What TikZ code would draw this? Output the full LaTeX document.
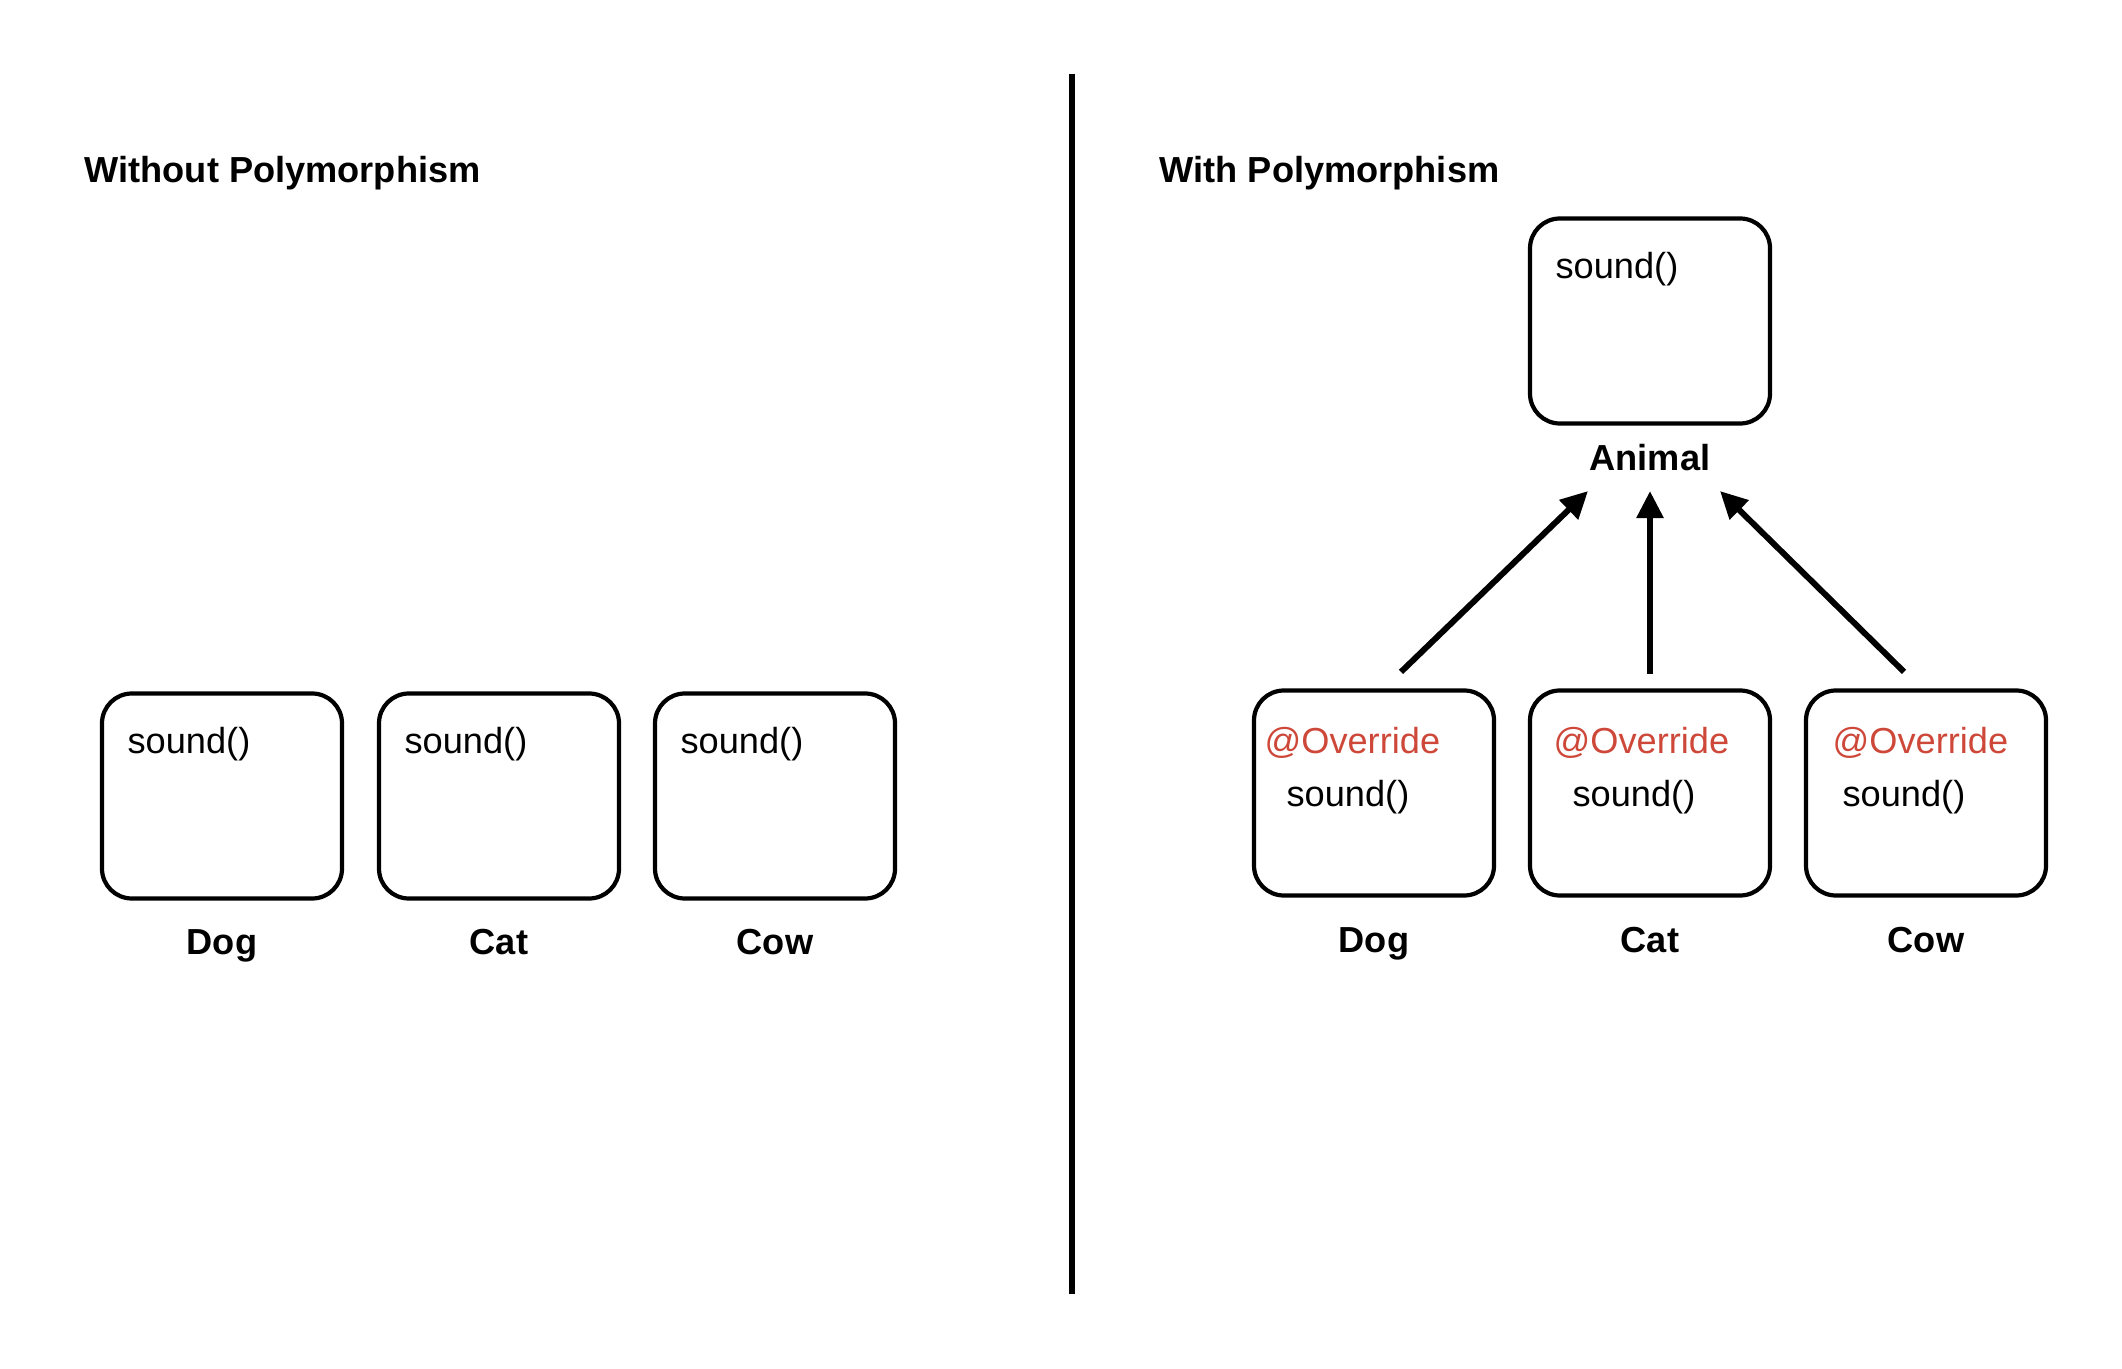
\documentclass[tikz,border=0pt]{standalone}
\usepackage{fontspec}
\setmainfont{Liberation Sans}
\usetikzlibrary{arrows.meta}
\definecolor{overred}{RGB}{206,72,58}
\tikzset{
  classbox/.style={draw, line width=1.2pt, rounded corners=8.5pt,
    minimum width=2.40cm, minimum height=2.05cm, inner sep=0pt},
  method/.style={anchor=west, inner sep=0pt, font=\fontsize{10.3}{12}\selectfont},
  override/.style={method, color=overred},
  classname/.style={anchor=base, inner sep=0pt, font=\fontsize{10.3}{12}\selectfont\bfseries},
  heading/.style={classname, anchor=base west},
  inherit/.style={-{Triangle[length=7.7pt,width=7.4pt]}, line width=1.7pt}
}
\begin{document}
\begin{tikzpicture}
  \useasboundingbox (0,0) rectangle (21.22,-13.69);
  % divider
  \draw[line width=1.7pt] (10.72,-0.74) -- (10.72,-12.94);

  % without polymorphism
  \node[heading] (plainhead) at (0.84,-1.83) {Without Polymorphism};
  \foreach \c/\x/\n in {dogplain/2.22/Dog, catplain/4.99/Cat, cowplain/7.75/Cow} {
    \node[classbox] (\c) at (\x,-7.96) {};
    \node[method] (\c-m) at ([xshift=0.27cm,yshift=-0.53cm]\c.north west) {sound()};
    \node[classname] (\c-name) at (\x,-9.54) {\n};
  }

  % with polymorphism
  \node[heading] (polyhead) at (11.59,-1.83) {With Polymorphism};
  \node[classbox] (animal) at (16.50,-3.21) {};
  \node[method] (animal-m) at ([xshift=0.27cm,yshift=-0.53cm]animal.north west) {sound()};
  \node[classname] (animal-name) at (16.50,-4.71) {Animal};

  \foreach \c/\x/\n/\a/\s in {dog/13.74/Dog/0.12/0.34, cat/16.50/Cat/0.25/0.44, cow/19.26/Cow/0.28/0.38} {
    \node[classbox] (\c) at (\x,-7.93) {};
    \node[override] (\c-o) at ([xshift=\a cm,yshift=-0.54cm]\c.north west) {@Override};
    \node[method] (\c-m) at ([xshift=\s cm,yshift=-1.09cm]\c.north west) {sound()};
    \node[classname] (\c-name) at (\x,-9.52) {\n};
  }

  \draw[inherit] ([shift={(0.27,0.165)}]dog.north) -- ([shift={(-0.62,-0.19)}]animal-name.south);
  \draw[inherit] ([shift={(0,0.145)}]cat.north) -- ([shift={(0,-0.19)}]animal-name.south);
  \draw[inherit] ([shift={(-0.22,0.165)}]cow.north) -- ([shift={(0.70,-0.19)}]animal-name.south);
\end{tikzpicture}
\end{document}
